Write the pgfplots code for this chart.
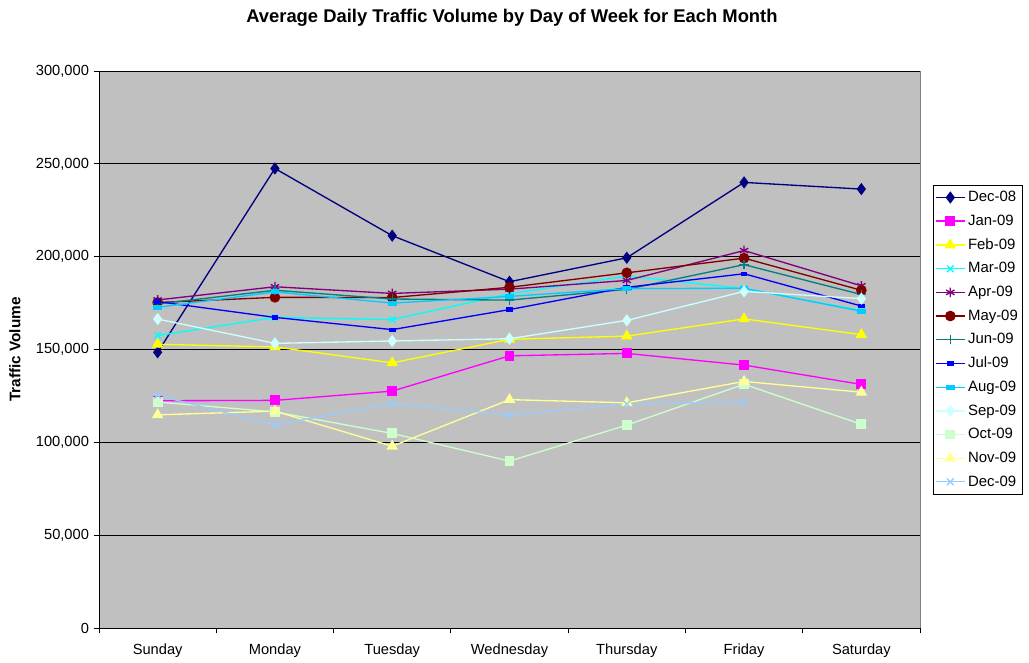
\documentclass[border=0pt]{standalone}
\usepackage{pgfplots}
\pgfplotsset{compat=1.18}
\usepackage{fontspec}
\setmainfont{Liberation Sans}
\definecolor{cA}{HTML}{000080}
\definecolor{cB}{HTML}{FF00FF}
\definecolor{cC}{HTML}{FFFF00}
\definecolor{cD}{HTML}{00FFFF}
\definecolor{cE}{HTML}{800080}
\definecolor{cF}{HTML}{800000}
\definecolor{cG}{HTML}{008080}
\definecolor{cH}{HTML}{0000FF}
\definecolor{cI}{HTML}{00CCFF}
\definecolor{cJ}{HTML}{CCFFFF}
\definecolor{cK}{HTML}{CCFFCC}
\definecolor{cL}{HTML}{FFFF99}
\definecolor{cM}{HTML}{99CCFF}
\definecolor{plotbg}{HTML}{C0C0C0}
\begin{document}
\begin{tikzpicture}
\useasboundingbox (0,0) rectangle (771.75pt,496.5pt);
\begin{axis}[
  at={(74.25pt,25.5pt)}, anchor=south west,
  scale only axis, width=615.75pt, height=417.75pt,
  xmin=-0.5, xmax=6.5, ymin=0, ymax=300000,
  axis background/.style={fill=plotbg, draw=gray},
  axis x line*=bottom, axis y line*=left,
  axis line style={black, line width=0.6pt},
  xtick={0,1,2,3,4,5,6},
  xticklabels={Sunday,Monday,Tuesday,Wednesday,Thursday,Friday,Saturday},
  major x tick style={draw=none},
  minor xtick={-0.5,0.5,1.5,2.5,3.5,4.5,5.5,6.5},
  minor x tick style={black, line width=0.6pt},
  minor tick length=4pt,
  ytick={0,50000,100000,150000,200000,250000,300000},
  scaled y ticks=false,
  yticklabel style={/pgf/number format/.cd, fixed, 1000 sep={,}, assume math mode=true},
  major y tick style={black, line width=0.6pt},
  major tick length=4pt,
  tick align=outside,
  ymajorgrids=true,
  major grid style={black, line width=0.6pt},
  ticklabel style={font=\fontsize{11}{13}\selectfont},
  xticklabel style={yshift=-4.5pt},
  every axis title shift=0pt,
  title={Average Daily Traffic Volume by Day of Week for Each Month},
  title style={font=\bfseries\fontsize{13.8}{16}\selectfont, at={(axis description cs:0.503,1.095)}, anchor=center},
  ylabel={Traffic Volume},
  ylabel style={font=\bfseries\fontsize{11.5}{13}\selectfont, at={(axis description cs:-0.1023,0.5)}, anchor=center},
  legend style={at={(1.0158,0.7953)}, anchor=north west, draw=black, fill=white,
    font=\fontsize{11.2}{13}\selectfont, row sep=4.4pt, inner xsep=1.5pt, inner ysep=2.5pt},
  legend cell align=left,
  legend image code/.code={\draw[line width=1pt, mark repeat=2,mark phase=2] plot coordinates {(0cm,0cm) (0.38cm,0cm) (0.76cm,0cm)};},
  every axis plot/.append style={line width=1pt},
  every mark/.append style={solid},
]
\addplot[color=cA, mark=diamond*, mark size=3.8pt] coordinates {(0,148500) (1,247500) (2,211300) (3,186500) (4,199400) (5,240000) (6,236400)};
\addlegendentry{Dec-08}
\addplot[color=cB, mark=square*, mark size=3.2pt] coordinates {(0,122400) (1,122600) (2,127600) (3,146600) (4,147900) (5,141600) (6,131200)};
\addlegendentry{Jan-09}
\addplot[color=cC, mark=triangle*, mark size=4pt] coordinates {(0,152800) (1,151400) (2,142800) (3,155500) (4,157200) (5,166500) (6,158000)};
\addlegendentry{Feb-09}
\addplot[color=cD, mark=x, mark size=3.6pt] coordinates {(0,157500) (1,167300) (2,166100) (3,180000) (4,189600) (5,182800) (6,171000)};
\addlegendentry{Mar-09}
\addplot[color=cE, mark=asterisk, mark size=3.6pt] coordinates {(0,176700) (1,183800) (2,180200) (3,182500) (4,187200) (5,203300) (6,184300)};
\addlegendentry{Apr-09}
\addplot[color=cF, mark=*, mark size=3.5pt] coordinates {(0,175300) (1,178100) (2,178000) (3,183500) (4,191300) (5,199200) (6,181900)};
\addlegendentry{May-09}
\addplot[color=cG, mark=+, mark size=3.6pt] coordinates {(0,174600) (1,181900) (2,177200) (3,176600) (4,182400) (5,195700) (6,179600)};
\addlegendentry{Jun-09}
\addplot[color=cH, mark=square*, mark size=2pt, mark options={yscale=0.55}] coordinates {(0,175800) (1,167300) (2,160700) (3,171500) (4,183500) (5,190800) (6,173400)};
\addlegendentry{Jul-09}
\addplot[color=cI, mark=square*, mark size=2.8pt, mark options={yscale=0.5}] coordinates {(0,172700) (1,181000) (2,175000) (3,178600) (4,182800) (5,183000) (6,170600)};
\addlegendentry{Aug-09}
\addplot[color=cJ, mark=diamond*, mark size=3.8pt] coordinates {(0,166400) (1,153300) (2,154600) (3,155800) (4,165700) (5,181300) (6,177400)};
\addlegendentry{Sep-09}
\addplot[color=cK, mark=square*, mark size=3.2pt] coordinates {(0,121700) (1,116400) (2,104800) (3,89900) (4,109300) (5,131300) (6,109700)};
\addlegendentry{Oct-09}
\addplot[color=cL, mark=triangle*, mark size=4pt] coordinates {(0,114800) (1,116800) (2,97900) (3,123000) (4,121300) (5,132800) (6,127000)};
\addlegendentry{Nov-09}
\addplot[color=cM, mark=x, mark size=3.6pt] coordinates {(0,125300) (1,109300) (2,121000) (3,114700) (4,120600) (5,121800)};
\addlegendentry{Dec-09}
\end{axis}
\end{tikzpicture}
\end{document}
